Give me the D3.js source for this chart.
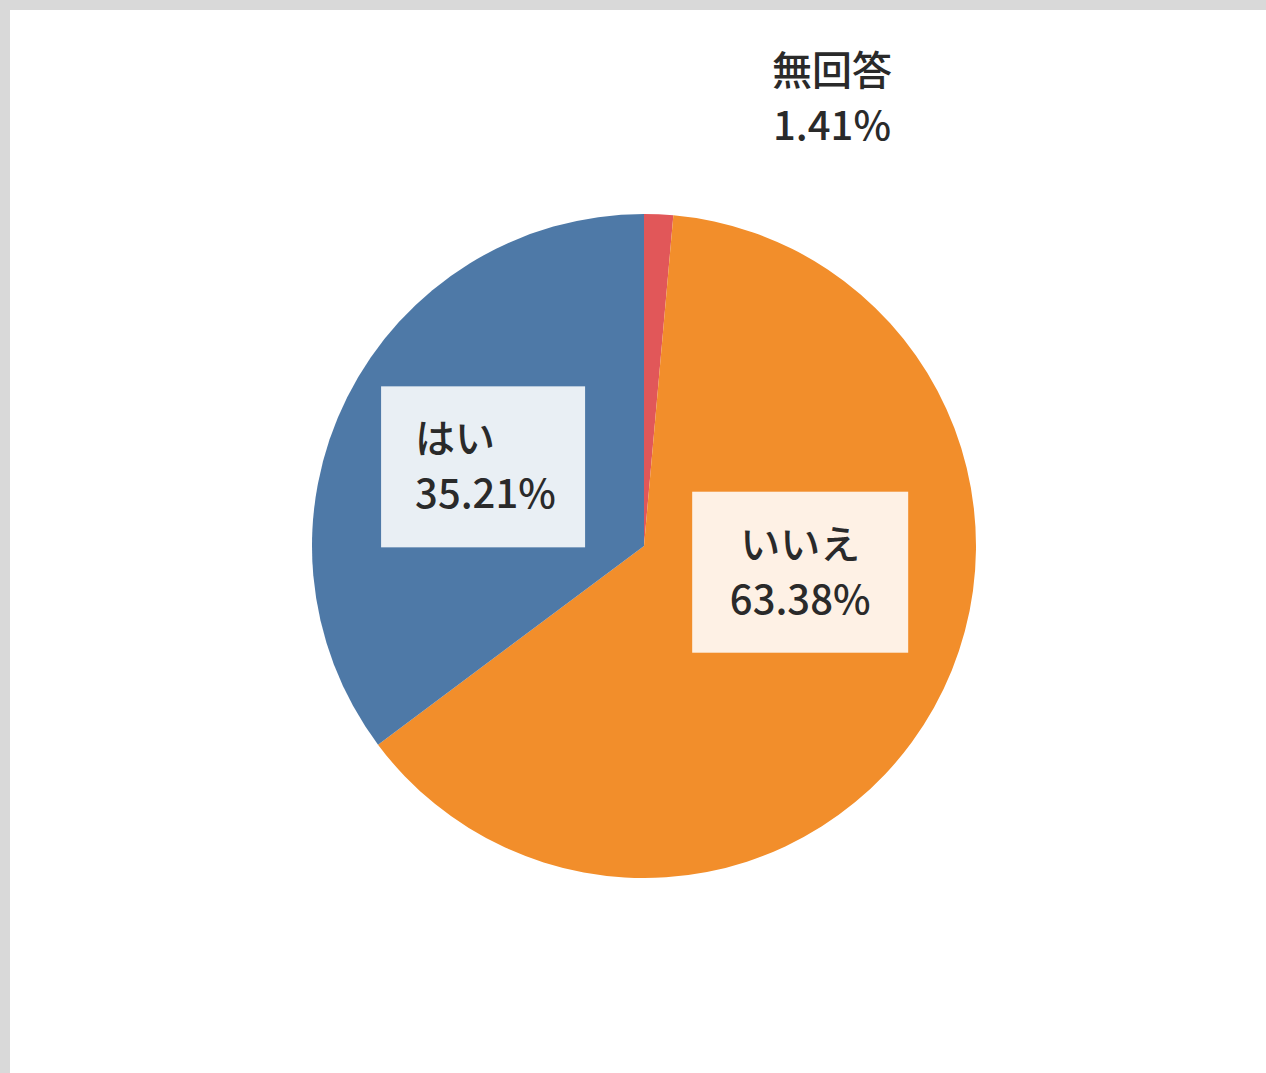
<!DOCTYPE html>
<html>
<head>
<meta charset="utf-8">
<script src="https://cdn.jsdelivr.net/npm/d3@7"></script>
<style>
  html, body { margin: 0; padding: 0; background: #d9d9d9; }
  svg { display: block; }
</style>
</head>
<body>
<script>
// Survey answers, in clockwise order starting from 12 o'clock
const categories = ["無回答", "いいえ", "はい"];
const values = [1.41, 63.38, 35.21];
const colors = ["#e15759", "#f28e2b", "#4e79a7"];

const W = 1266, H = 1073;
const svg = d3.select("body").append("svg").attr("width", W).attr("height", H);

// white panel inside a light gray frame (top and left edges)
svg.append("rect").attr("x", 10).attr("y", 10).attr("width", W - 10).attr("height", H - 10).attr("fill", "#ffffff");

const cx = 644, cy = 546, R = 332;
const g = svg.append("g").attr("transform", `translate(${cx},${cy})`);

const pie = d3.pie().sort(null).value(d => d.value);
const arcs = pie(categories.map((c, i) => ({ cat: c, value: values[i], color: colors[i] })));
const arc = d3.arc().innerRadius(0).outerRadius(R);

g.selectAll("path.slice").data(arcs).enter().append("path")
  .attr("class", "slice")
  .attr("d", arc)
  .attr("fill", d => d.data.color);

// label placement: centroid on a label ring, with small nudges
const nudge = {
  "無回答": { fixed: [188, -448], box: false, align: "middle" },
  "いいえ": { r: 360, dx: -1, dy: -62, box: true, bw: 216, align: "middle" },
  "はい": { r: 360, dx: 0, dy: 1, box: true, bw: 204, align: "start" }
};

const fontSize = 40, lineGap = 55;
const fontFamily = "'Noto Sans CJK JP', 'Noto Sans', sans-serif";

arcs.forEach(d => {
  const n = nudge[d.data.cat];
  const a = (d.startAngle + d.endAngle) / 2;
  let x, y;
  if (n.fixed) { [x, y] = n.fixed; }
  else {
    const rr = n.r / 2;
    x = rr * Math.sin(a) + n.dx;
    y = -rr * Math.cos(a) + n.dy;
  }
  const lg = g.append("g").attr("transform", `translate(${x},${y})`);
  const lines = [d.data.cat, d3.format(".2f")(d.data.value) + "%"];
  if (n.box) {
    lg.append("rect")
      .attr("x", -n.bw / 2).attr("y", -80).attr("width", n.bw).attr("height", 161)
      .attr("fill", "#ffffff").attr("fill-opacity", 0.88);
  }
  const tx = n.align === "start" ? -n.bw / 2 + 34 : 0;
  lg.selectAll("text").data(lines).enter().append("text")
    .attr("x", tx)
    .attr("y", (t, i) => (i - 0.5) * lineGap)
    .attr("dy", "0.36em")
    .attr("text-anchor", n.align)
    .attr("font-family", fontFamily)
    .attr("font-size", fontSize)
    .attr("font-weight", 500)
    .attr("fill", "#2a2a2a")
    .text(t => t);
});
</script>
</body>
</html>
